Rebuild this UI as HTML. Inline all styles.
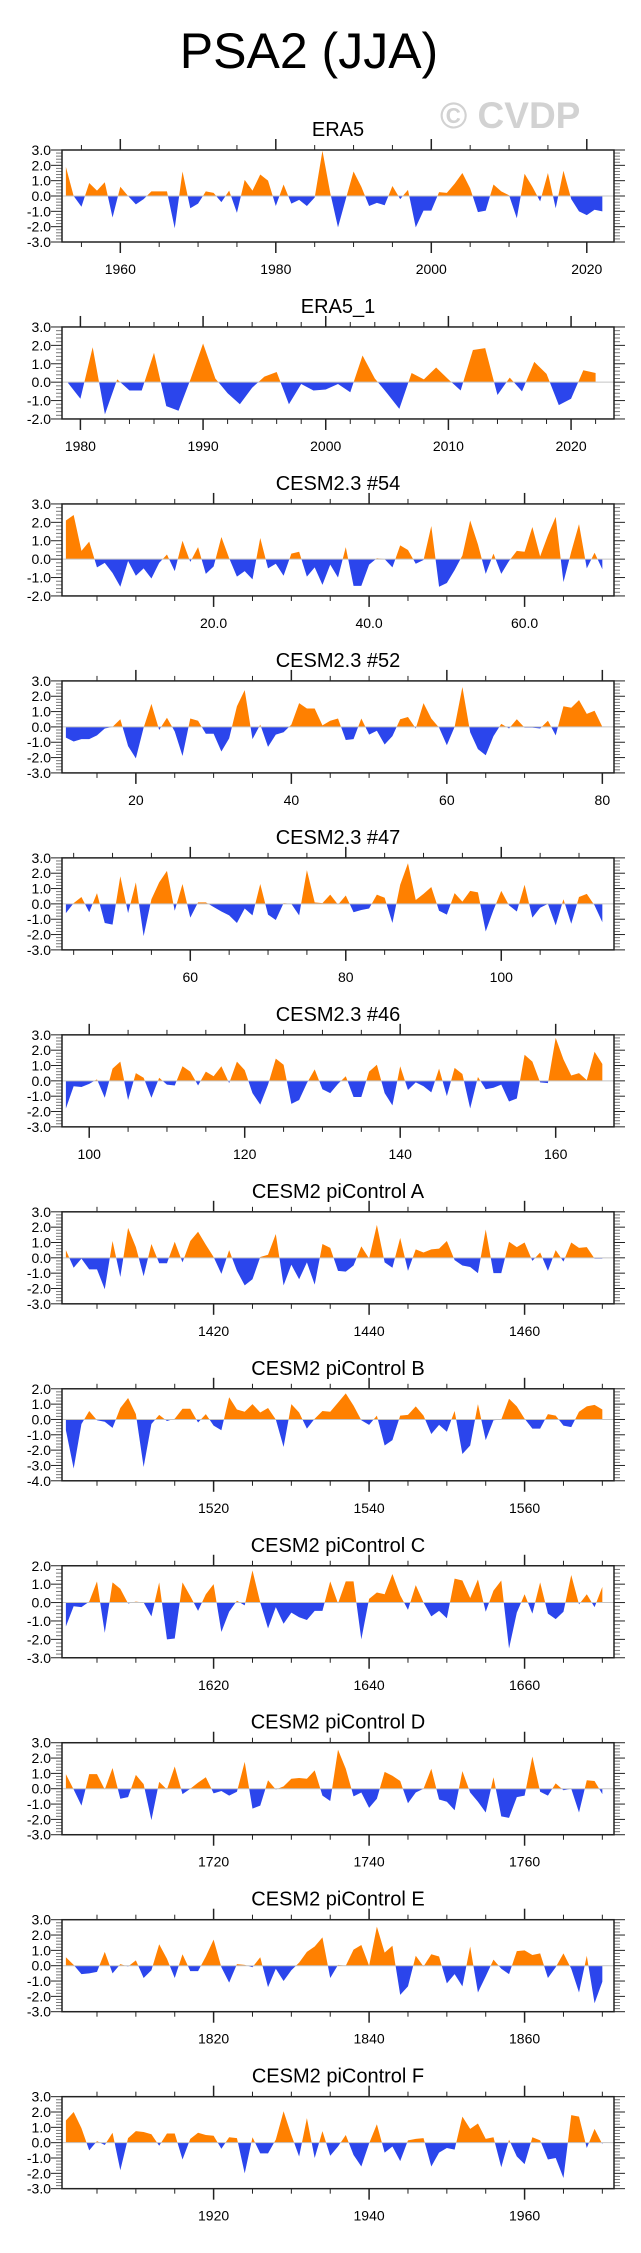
<!DOCTYPE html>
<html><head><meta charset="utf-8">
<style>
html,body{margin:0;padding:0;background:#fff;}
svg{display:block;font-family:"Liberation Sans",Arial,sans-serif;}
</style></head>
<body>
<svg id="chart" width="641" height="2253" viewBox="0 0 641 2253" xmlns="http://www.w3.org/2000/svg">
<text x="309" y="68" font-size="50" text-anchor="middle" fill="#000">PSA2 (JJA)</text>
<text x="440" y="128" font-size="37" font-weight="bold" fill="#d2d2d2">© CVDP</text>
</svg>
<script>
const titles = ["ERA5","ERA5_1","CESM2.3 #54","CESM2.3 #52","CESM2.3 #47","CESM2.3 #46","CESM2 piControl A","CESM2 piControl B","CESM2 piControl C","CESM2 piControl D","CESM2 piControl E","CESM2 piControl F"];
const startYears = [1953,1979,1,11,44,97,1401,1501,1601,1701,1801,1901];
const yMins = [-3,-2,-2,-3,-3,-3,-3,-4,-3,-3,-3,-3];
const yMaxs = [3,3,3,3,3,3,3,2,2,3,3,3];
const majorSteps = [20,10,20,20,20,20,20,20,20,20,20,20];
const minorSteps = [5,2,5,5,5,5,5,5,5,5,5,5];
const xTickLabels = [
 ["1960","1980","2000","2020"],
 ["1980","1990","2000","2010","2020"],
 ["20.0","40.0","60.0"],
 ["20","40","60","80"],
 ["60","80","100"],
 ["100","120","140","160"],
 ["1420","1440","1460"],
 ["1520","1540","1560"],
 ["1620","1640","1660"],
 ["1720","1740","1760"],
 ["1820","1840","1860"],
 ["1920","1940","1960"]
];
const yTickLabels = ["-4.0","-3.0","-2.0","-1.0","0.0","1.0","2.0","3.0"];
const yTickValues = [-4,-3,-2,-1,0,1,2,3];

const era5 = [1.9,0.0,-0.7,0.85,0.35,0.9,-1.4,0.6,0.0,-0.55,-0.2,0.3,0.3,0.3,-2.1,1.6,-0.8,-0.5,0.3,0.2,-0.4,0.35,-1.1,1.05,0.35,1.4,1.0,-0.65,0.75,-0.5,-0.25,-0.65,-0.1,2.95,0.2,-2.05,-0.2,1.6,0.6,-0.65,-0.45,-0.6,0.65,-0.2,0.4,-2.05,-0.95,-0.95,0.25,0.2,0.8,1.5,0.5,-1.05,-0.95,0.75,0.3,0.05,-1.45,1.45,0.6,-0.35,1.5,-0.8,1.65,-0.2,-1.0,-1.25,-0.9,-1.0];
const era5b = [-0.05,-0.9,1.9,-1.75,0.15,-0.45,-0.45,1.6,-1.3,-1.55,0.2,2.1,0.2,-0.6,-1.2,-0.3,0.3,0.55,-1.2,-0.1,-0.45,-0.4,-0.1,-0.55,1.45,0.2,-0.6,-1.45,0.5,0.15,0.8,0.15,-0.45,1.75,1.85,-0.7,0.25,-0.5,1.1,0.45,-1.25,-0.9,0.65,0.5];
const cesm54 = [2.1,2.4,0.45,0.95,-0.45,-0.2,-0.75,-1.5,-0.1,-0.9,-0.5,-1.05,-0.2,0.25,-0.65,1.0,-0.15,0.65,-0.8,-0.4,1.2,0.05,-0.95,-0.65,-1.1,1.15,-0.5,-0.25,-0.9,0.3,0.4,-0.95,-0.45,-1.4,-0.3,-1.0,0.65,-1.45,-1.45,-0.3,0.05,0.0,-0.45,0.75,0.5,-0.25,-0.05,1.8,-1.5,-1.3,-0.6,0.2,2.1,0.8,-0.8,0.3,-0.8,-0.1,0.45,0.4,1.75,0.15,1.3,2.3,-1.25,0.4,1.9,-0.5,0.35,-0.55];
const cesm52 = [-0.7,-0.95,-0.8,-0.8,-0.55,-0.1,0.0,0.5,-1.25,-2.05,-0.05,1.5,-0.2,0.6,-0.3,-1.9,0.55,0.4,-0.45,-0.45,-1.6,-0.75,1.35,2.4,-0.8,0.15,-1.3,-0.5,-0.35,0.15,1.55,1.2,1.2,0.1,0.4,0.55,-0.85,-0.8,0.55,-0.5,-0.25,-1.15,-0.6,0.5,0.65,-0.1,1.55,0.55,-0.05,-1.2,0.0,2.6,-0.35,-1.45,-1.85,-0.6,0.2,-0.1,0.5,-0.05,-0.05,-0.1,0.4,-0.55,1.35,1.25,1.75,0.85,1.05,0.0];
const cesm47 = [-0.6,0.05,0.45,-0.55,0.7,-1.25,-1.35,1.8,-0.6,1.4,-2.1,0.3,1.4,2.15,-0.45,1.3,-0.9,0.1,0.1,-0.2,-0.5,-0.75,-1.25,-0.3,-0.75,1.3,-0.7,-1.05,0.05,0.0,-0.75,2.2,0.1,0.05,0.6,-0.05,0.55,-0.55,-0.4,-0.3,0.6,0.4,-1.25,1.25,2.65,0.25,0.65,1.1,-0.45,-0.7,0.7,0.15,0.85,0.75,-1.8,-0.4,0.85,-0.1,-0.5,1.25,-0.9,-0.25,0.0,-1.4,0.3,-1.3,0.45,0.65,-0.1,-1.2];
const cesm46 = [-1.8,-0.35,-0.4,-0.2,0.1,-1.1,0.8,1.25,-1.25,0.5,0.2,-1.1,0.2,-0.25,-0.3,0.95,0.6,-0.3,0.6,0.3,0.95,-0.15,1.25,0.7,-0.8,-1.55,-0.25,1.45,1.05,-1.5,-1.25,-0.15,0.75,-0.55,-0.8,-0.2,0.3,-1.05,-1.05,0.6,1.05,-0.8,-1.6,0.95,-0.6,-0.1,-0.35,-0.75,0.8,-1.0,0.85,0.45,-1.8,0.25,-0.55,-0.45,-0.25,-1.35,-1.15,1.7,1.25,-0.1,-0.15,2.8,1.4,0.35,0.5,0.05,1.9,1.1];
const piA = [0.5,-0.65,-0.05,-0.75,-0.75,-2.05,1.1,-1.25,1.95,0.7,-1.2,0.9,-0.35,-0.35,1.05,-0.3,1.1,1.7,0.85,0.05,-1.05,0.5,-0.85,-1.8,-1.4,0.05,0.2,1.55,-1.8,-0.45,-1.4,-0.3,-1.75,0.9,0.65,-0.85,-0.9,-0.5,0.75,-0.05,2.15,-0.3,-0.65,1.3,-0.85,0.55,0.35,0.55,0.6,1.1,-0.15,-0.5,-0.6,-1.0,1.85,-1.0,-1.0,1.05,0.7,1.0,-0.2,0.35,-0.85,0.5,-0.25,1.0,0.65,0.7,-0.05,-0.05];
const piB = [-0.7,-3.2,-0.3,0.55,-0.05,-0.15,-0.55,0.75,1.4,0.35,-3.1,-0.3,0.3,-0.1,0.05,0.7,0.7,-0.2,0.35,-0.4,-0.7,1.45,0.65,0.5,1.0,0.45,0.75,0.0,-1.8,1.0,0.45,-0.6,0.05,0.55,0.5,1.1,1.7,0.9,-0.05,-0.35,0.25,-1.7,-1.35,0.25,0.3,0.85,0.25,-0.95,-0.35,-0.8,0.55,-2.25,-1.7,1.0,-1.35,-0.05,0.0,1.35,0.85,0.05,-0.6,-0.6,0.35,0.25,-0.4,-0.5,0.5,0.85,0.95,0.65];
const piC = [-1.3,-0.2,-0.25,0.05,1.15,-1.65,1.1,0.75,-0.05,0.05,0.0,-0.75,1.1,-2.0,-1.95,1.1,0.35,-0.45,0.45,1.0,-1.6,-0.5,0.1,-0.15,1.75,0.0,-1.4,-0.25,-1.15,-0.55,-0.8,-0.95,-0.45,-0.45,1.15,-0.05,1.15,1.15,-2.0,0.2,0.55,0.45,1.55,0.4,-0.4,0.95,0.0,-0.75,-0.45,-0.85,1.3,1.2,0.25,1.25,-0.5,0.65,1.2,-2.5,-0.55,0.45,-0.6,1.1,-0.6,-0.9,-0.5,1.5,-0.1,0.45,-0.25,0.85];
const piD = [0.95,-0.05,-1.1,0.95,0.95,-0.05,1.35,-0.65,-0.55,0.9,0.3,-2.05,0.45,-0.05,1.45,-0.35,0.0,0.4,0.75,-0.3,-0.15,-0.45,-0.2,1.75,-1.3,-1.1,0.55,-0.05,0.15,0.65,0.7,0.65,1.2,-0.45,-0.8,2.55,1.3,-0.5,-0.25,-1.25,-0.65,1.1,0.85,0.5,-0.95,-0.25,0.0,1.3,-0.7,-0.85,-1.4,1.15,-0.25,-0.85,-1.55,0.75,-1.8,-1.9,-0.55,-0.45,2.1,-0.2,-0.45,0.35,-0.1,0.0,-1.55,0.55,0.5,-0.35];
const piE = [0.55,0.05,-0.55,-0.5,-0.4,0.9,-0.5,0.1,-0.05,0.35,-0.8,-0.3,1.4,0.45,-0.8,0.75,-0.35,-0.35,0.6,1.7,-0.1,-1.1,0.1,0.05,-0.1,0.55,-1.4,-0.2,-1.0,-0.3,0.2,0.9,1.25,1.85,-0.8,0.05,0.0,1.05,1.35,0.0,2.55,0.85,1.3,-1.9,-1.35,0.65,-0.05,0.75,0.6,-1.15,-0.55,-1.35,1.25,-1.75,-0.7,0.4,-0.2,-0.55,0.95,1.0,0.7,0.8,-0.8,-0.1,0.8,-0.2,-1.75,0.65,-2.45,-1.05];
const piF = [1.45,2.0,0.95,-0.5,0.1,-0.15,0.65,-1.8,0.3,0.75,0.7,0.55,-0.2,0.6,0.6,-1.1,0.25,0.65,0.5,0.45,-0.4,0.35,0.3,-2.0,0.35,-0.7,-0.7,0.2,2.05,0.5,-0.9,1.6,-1.0,0.75,-0.85,-0.25,0.5,-0.8,-1.55,-0.05,1.2,-0.65,-0.25,-1.2,0.15,0.25,0.3,-1.55,-0.65,-0.35,-0.45,1.7,0.9,1.25,0.25,0.35,-1.6,0.2,-0.9,-1.4,0.35,0.15,-1.1,-1.0,-2.3,1.8,1.7,-0.35,0.9,-0.1];

const seriesList = [era5,era5b,cesm54,cesm52,cesm47,cesm46,piA,piB,piC,piD,piE,piF];

const NS = "http://www.w3.org/2000/svg";
const svg = document.getElementById("chart");
const L = 62, R = 614, H = 92, TOP0 = 150, GAP = 176.97;
const ORANGE = "#ff8000", BLUE = "#2b45ec";

function mk(tag, attrs, parent) {
  const e = document.createElementNS(NS, tag);
  for (const k in attrs) e.setAttribute(k, attrs[k]);
  (parent || svg).appendChild(e);
  return e;
}

seriesList.forEach((vals, p) => {
  const top = TOP0 + GAP * p, bot = top + H;
  const x0 = startYears[p] - 0.5, x1 = startYears[p] + vals.length + 0.5;
  const yMin = yMins[p], yMax = yMaxs[p];
  const xs = v => L + (v - x0) / (x1 - x0) * (R - L);
  const ys = v => bot - (v - yMin) / (yMax - yMin) * H;

  const g = mk("g", {});
  
  

  const t = mk("text", {x: (L + R) / 2, y: top - 14, "font-size": 20, "text-anchor": "middle", fill: "#000"}, g);
  t.textContent = titles[p];
  
  

  const y0 = ys(0);
  const id = "c" + p;
  const defs = mk("defs", {}, g);
  const ca = mk("clipPath", {id: id + "a"}, defs);
  mk("rect", {x: L, y: top, width: R - L, height: y0 - top}, ca);
  const cb = mk("clipPath", {id: id + "b"}, defs);
  mk("rect", {x: L, y: y0, width: R - L, height: bot - y0}, cb);

  let pts = xs(startYears[p]).toFixed(2) + "," + y0.toFixed(2) + " ";
  vals.forEach((v, i) => { pts += xs(startYears[p] + i).toFixed(2) + "," + ys(v).toFixed(2) + " "; });
  pts += xs(startYears[p] + vals.length - 1).toFixed(2) + "," + y0.toFixed(2);

  const pa = mk("polygon", {points: pts, fill: ORANGE, "clip-path": "url(#" + id + "a)"}, g);
  
  
  const pb = mk("polygon", {points: pts, fill: BLUE, "clip-path": "url(#" + id + "b)"}, g);
  
  

  const zl = mk("line", {x1: L, x2: R, y1: y0, y2: y0, stroke: "#c4c4c4", "stroke-width": 1}, g);
  
  

  // x ticks
  const ms = minorSteps[p], Ms = majorSteps[p];
  for (let v = Math.ceil(x0 / ms) * ms; v <= x1; v += ms) {
    const x = xs(v), major = (v % Ms === 0);
    const len = major ? 11 : 5;
    mk("line", {x1: x, x2: x, y1: top, y2: top - len, stroke: "#222", "stroke-width": major ? 1.5 : 1}, g);
    mk("line", {x1: x, x2: x, y1: bot, y2: bot + len, stroke: "#222", "stroke-width": major ? 1.5 : 1}, g);
  }
  const labs = xTickLabels[p];
  labs.forEach(s => {
    const v = parseFloat(s);
    const tx = mk("text", {x: xs(v), y: bot + 32, "font-size": 14, "text-anchor": "middle", fill: "#000"}, g);
    tx.textContent = s;
    
    
  });

  // y ticks
  for (let k = Math.round(yMin * 5); k <= Math.round(yMax * 5); k++) {
    const y = ys(k / 5), major = (k % 5 === 0);
    const len = major ? 11 : 6;
    mk("line", {x1: L, x2: L - len, y1: y, y2: y, stroke: major ? "#222" : "#777", "stroke-width": 1}, g);
    mk("line", {x1: R, x2: R + len, y1: y, y2: y, stroke: major ? "#222" : "#777", "stroke-width": 1}, g);
  }
  yTickValues.forEach((v, i) => {
    if (v < yMin || v > yMax) return;
    const ty = mk("text", {x: L - 11, y: ys(v) + 5, "font-size": 14, "text-anchor": "end", fill: "#000"}, g);
    ty.textContent = yTickLabels[i];
    
    
  });

  const box = mk("rect", {x: L, y: top, width: R - L, height: H, fill: "none", stroke: "#222", "stroke-width": 1.5}, g);
  
  
});
</script>
</body></html>
